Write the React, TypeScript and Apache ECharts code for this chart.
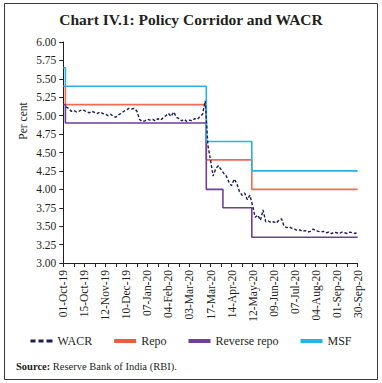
import React, { useEffect, useRef } from "react";
import * as echarts from "echarts";

// Tick labels, shown at every other tick position (positions 0,2,...,28)
const tickLabels = [
  "01-Oct-19", "15-Oct-19", "12-Nov-19", "10-Dec-19", "07-Jan-20", "04-Feb-20",
  "03-Mar-20", "17-Mar-20", "14-Apr-20", "12-May-20", "09-Jun-20", "07-Jul-20",
  "04-Aug-20", "01-Sep-20", "30-Sep-20",
];

// WACR sampled every 0.25 tick-positions starting at 0.25
const wacrStep = 0.25;
const wacr = [
  5.12, 5.10, 5.06, 5.07, 5.05, 5.06, 5.08, 5.07, 5.05, 5.04, 5.06, 5.04,
  5.03, 5.05, 5.03, 5.02, 5.00, 5.02, 4.99, 4.98, 5.01, 5.03, 5.06, 5.08,
  5.10, 5.09, 5.10, 5.06, 4.95, 4.92, 4.93, 4.95, 4.94, 4.95, 4.93, 4.96,
  4.94, 4.97, 5.00, 5.03, 4.99, 5.05, 4.98, 4.96, 4.93, 4.95, 4.92, 4.94,
  4.93, 4.96, 4.95, 4.99, 5.02, 5.20, 4.60, 4.40, 4.18, 4.28, 4.32, 4.27,
  4.22, 4.18, 4.10, 4.05, 4.14, 4.08, 3.97, 3.92, 3.95, 3.86, 3.92, 3.78,
  3.62, 3.65, 3.58, 3.72, 3.56, 3.57, 3.55, 3.56, 3.54, 3.58, 3.60, 3.50,
  3.48, 3.49, 3.47, 3.46, 3.44, 3.45, 3.43, 3.44, 3.42, 3.43, 3.46, 3.44,
  3.43, 3.42, 3.43, 3.41, 3.42, 3.40, 3.42, 3.41, 3.40, 3.42, 3.41, 3.40,
  3.42, 3.41, 3.40, 3.42,
];

// Policy rates: value holds from each change position onward
const repoAt = [0, 0.2, 13.6, 17.93, 28];
const repoValues = [5.40, 5.15, 4.40, 4.00, 4.00];
const reverseRepoAt = [0, 0.2, 13.6, 15.18, 17.93, 28];
const reverseRepoValues = [5.15, 4.90, 4.00, 3.75, 3.35, 3.35];
const msfAt = [0, 0.2, 13.6, 17.93, 28];
const msfValues = [5.65, 5.40, 4.65, 4.25, 4.25];

const yTicks = { min: 3, max: 6, interval: 0.25 };

const serif = "Liberation Serif";

export default function App() {
  const ref = useRef<HTMLDivElement>(null);

  useEffect(() => {
    if (!ref.current) return;
    const chart = echarts.init(ref.current, undefined, { renderer: "svg" });
    const zip = (xs: number[], ys: number[]) => xs.map((x, i) => [x, ys[i]]);
    const wacrData = wacr.map((v, i) => [(i + 1) * wacrStep, v]);

    chart.setOption({
      animation: false,
      backgroundColor: "#ffffff",
      textStyle: { fontFamily: serif },
      title: {
        text: "Chart IV.1: Policy Corridor and WACR",
        left: "center",
        top: 6,
        textStyle: { fontFamily: serif, fontSize: 15.5, fontWeight: "bold", color: "#231f20" },
      },
      grid: { left: 63.3, right: 24.3, top: 42, bottom: 120, containLabel: false },
      xAxis: {
        type: "value",
        min: 0,
        max: 28,
        interval: 1,
        splitLine: { show: false },
        axisLine: { lineStyle: { color: "#231f20", width: 1 } },
        axisTick: { show: true, length: 4, lineStyle: { color: "#231f20" } },
        axisLabel: {
          rotate: 90,
          margin: 7,
          fontSize: 11.5,
          color: "#231f20",
          fontFamily: serif,
          showMinLabel: true,
          showMaxLabel: true,
          formatter: (v: number) => (Math.round(v) % 2 === 0 ? tickLabels[Math.round(v) / 2] ?? "" : ""),
        },
      },
      yAxis: {
        type: "value",
        min: yTicks.min,
        max: yTicks.max,
        interval: yTicks.interval,
        splitLine: { show: false },
        axisLine: { show: true, lineStyle: { color: "#231f20", width: 1 } },
        axisTick: { show: true, length: 4, lineStyle: { color: "#231f20" } },
        axisLabel: {
          margin: 7,
          fontSize: 11.5,
          color: "#231f20",
          fontFamily: serif,
          formatter: (v: number) => v.toFixed(2),
        },
      },
      legend: {
        bottom: 31,
        left: "center",
        itemWidth: 22,
        itemHeight: 4,
        itemGap: 22,
        textStyle: { fontFamily: serif, fontSize: 12, color: "#231f20" },
        data: [
          { name: "WACR", icon: "path://M0,0h5v3h-5zM8,0h5v3h-5zM16,0h6v3h-6z", itemStyle: { color: "#1b1a5a" } },
          { name: "Repo", icon: "rect", itemStyle: { color: "#f05a40" } },
          { name: "Reverse repo", icon: "rect", itemStyle: { color: "#6e3f98" } },
          { name: "MSF", icon: "rect", itemStyle: { color: "#27b2e8" } },
        ],
      },
      series: [
        {
          name: "WACR",
          type: "line",
          data: wacrData,
          showSymbol: false,
          symbol: "none",
          lineStyle: { color: "#1b1a5a", width: 1.4, type: [3, 2] },
          itemStyle: { color: "#1b1a5a" },
          z: 5,
        },
        {
          name: "Repo",
          type: "line",
          step: "end",
          data: zip(repoAt, repoValues),
          symbol: "none",
          lineStyle: { color: "#f26a52", width: 1.6 },
          itemStyle: { color: "#f05a40" },
        },
        {
          name: "Reverse repo",
          type: "line",
          step: "end",
          data: zip(reverseRepoAt, reverseRepoValues),
          symbol: "none",
          lineStyle: { color: "#6e3f98", width: 1.6 },
          itemStyle: { color: "#6e3f98" },
        },
        {
          name: "MSF",
          type: "line",
          step: "end",
          data: zip(msfAt, msfValues),
          symbol: "none",
          lineStyle: { color: "#27b2e8", width: 1.6 },
          itemStyle: { color: "#27b2e8" },
        },
      ],
      graphic: [
        {
          type: "rect",
          shape: { x: 4.5, y: 3.5, width: 373, height: 376 },
          style: { fill: "none", stroke: "#3a3a3a", lineWidth: 1 },
          silent: true,
        },
        {
          type: "text",
          x: 23,
          y: 121,
          rotation: Math.PI / 2,
          style: {
            text: "Per cent",
            fontFamily: serif,
            fontSize: 11.5,
            fill: "#231f20",
            align: "center",
            verticalAlign: "middle",
          },
        },
        {
          type: "text",
          x: 16,
          y: 366,
          style: {
            text: "{b|Source:} Reserve Bank of India (RBI).",
            fontFamily: serif,
            fontSize: 10.5,
            fill: "#231f20",
            verticalAlign: "middle",
            rich: {
              b: { fontFamily: serif, fontSize: 10.5, fontWeight: "bold", fill: "#231f20" },
            },
          },
        },
      ],
    });
    return () => chart.dispose();
  }, []);

  return (
    <div
      ref={ref}
      style={{ position: "fixed", left: 0, top: 0, width: 382, height: 383 }}
    />
  );
}
